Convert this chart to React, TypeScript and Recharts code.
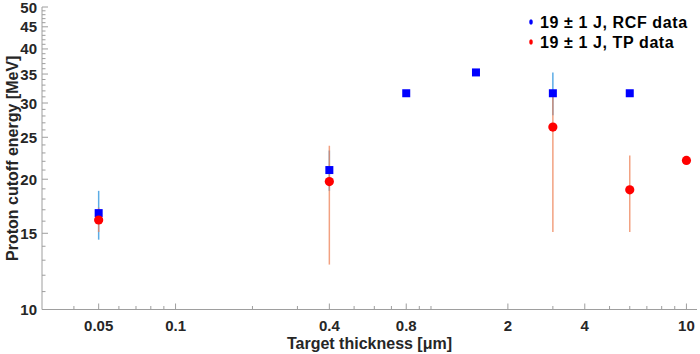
import React from 'react';
import { ComposedChart, Scatter, XAxis, YAxis, ErrorBar, Legend } from 'recharts';

const FONT = '"Liberation Sans", Arial, Helvetica, sans-serif';

// RCF data (target thickness in µm, cutoff energy in MeV)
const rcfThickness = [0.05, 0.4, 0.8, 1.5, 3, 6];
const rcfEnergy = [16.7, 21.0, 31.6, 35.3, 31.6, 31.6];
const rcfLow = [14.5, 18.8, 31.6, 35.3, 28.1, 31.6];
const rcfHigh = [18.8, 23.3, 31.6, 35.3, 35.3, 31.6];

// TP data
const tpThickness = [0.05, 0.4, 3, 6, 10];
const tpEnergy = [16.1, 19.75, 26.4, 18.9, 22.1];
const tpLow = [15.1, 12.7, 15.1, 15.1, 22.1];
const tpHigh = [17.2, 23.9, 31.0, 22.7, 22.1];

const xMajorTicks = [0.05, 0.1, 0.4, 0.8, 2, 4, 10];
const xMinorTicks = [0.04, 0.06, 0.07, 0.08, 0.09, 0.2, 0.3, 0.5, 0.6, 0.7, 0.9, 1, 3, 5, 6, 7, 8, 9];
const yMajorTicks = [10, 15, 20, 25, 30, 35, 40, 45, 50];
const yMinorTicks = [
  11, 12, 13, 14, 16, 17, 18, 19, 21, 22, 23, 24, 26, 27, 28, 29,
  31, 32, 33, 34, 36, 37, 38, 39, 41, 42, 43, 44, 46, 47, 48, 49,
];

const legendLabels = ['19 \u00B1 1 J, RCF data', '19 \u00B1 1 J, TP data'];

const xTicks = [...xMajorTicks, ...xMinorTicks];
const yTicks = [...yMajorTicks, ...yMinorTicks];

const rcfData = rcfThickness.map((x, i) => ({
  x,
  y: rcfEnergy[i],
  err: [rcfEnergy[i] - rcfLow[i], rcfHigh[i] - rcfEnergy[i]],
}));
const tpData = tpThickness.map((x, i) => ({
  x,
  y: tpEnergy[i],
  err: [tpEnergy[i] - tpLow[i], tpHigh[i] - tpEnergy[i]],
}));

const TICK_COLOR = '#9e9e9e';
const LABEL_COLOR = '#262626';

const BottomTick = (props: any) => {
  const { x, y, payload } = props;
  const major = xMajorTicks.includes(payload.value);
  return (
    <g>
      <line x1={x} x2={x} y1={y} y2={y - (major ? 6 : 3.5)} stroke={TICK_COLOR} />
      {major && (
        <text x={x} y={y + 21} textAnchor="middle" fontFamily={FONT} fontWeight={700} fontSize={15} fill={LABEL_COLOR}>
          {payload.value}
        </text>
      )}
    </g>
  );
};

const TopTick = (props: any) => {
  const { x, y, payload } = props;
  const major = xMajorTicks.includes(payload.value);
  return <line x1={x} x2={x} y1={y} y2={y + (major ? 6 : 3.5)} stroke={TICK_COLOR} />;
};

const LeftTick = (props: any) => {
  const { x, y, payload } = props;
  const major = yMajorTicks.includes(payload.value);
  return (
    <g>
      <line x1={x} x2={x + (major ? 6 : 3.5)} y1={y} y2={y} stroke={TICK_COLOR} />
      {major && (
        <text x={x - 5} y={y + 5.5} textAnchor="end" fontFamily={FONT} fontWeight={700} fontSize={15} fill={LABEL_COLOR}>
          {payload.value}
        </text>
      )}
    </g>
  );
};

const RightTick = (props: any) => {
  const { x, y, payload } = props;
  const major = yMajorTicks.includes(payload.value);
  return <line x1={x} x2={x - (major ? 6 : 3.5)} y1={y} y2={y} stroke={TICK_COLOR} />;
};

const Square = (props: any) => (
  <rect x={props.cx - 4} y={props.cy - 4} width={8} height={8} fill="#0000ff" />
);
const Dot = (props: any) => <circle cx={props.cx} cy={props.cy} r={4.6} fill="#ff0000" />;

const LegendBox = () => (
  <svg width={172} height={52}>
    {legendLabels.map((label, i) => (
      <g key={label}>
        <ellipse cx={7} cy={22 + i * 20} rx={1.8} ry={2.8} fill={i === 0 ? '#0000ff' : '#ff0000'} />
        <text
          x={16}
          y={27.5 + i * 20}
          fontFamily={FONT}
          fontWeight={700}
          fontSize={16}
          letterSpacing={0.6}
          fill="#000"
        >
          {label}
        </text>
      </g>
    ))}
  </svg>
);

export default function App() {
  return (
    <div style={{ width: 700, height: 354 }}>
      <style>{'body{margin:0}'}</style>
      <ComposedChart width={700} height={354} margin={{ top: 7, right: 3, bottom: 0, left: 0 }}>
        <XAxis
          xAxisId="b"
          dataKey="x"
          type="number"
          scale="log"
          domain={[0.03, 11]}
          allowDataOverflow
          ticks={xTicks}
          interval={0}
          tickSize={0}
          tickMargin={0}
          tick={<BottomTick />}
          tickLine={false}
          height={44.5}
          stroke={TICK_COLOR}
          label={{
            value: 'Target thickness [\u03BCm]',
            position: 'insideBottom',
            offset: 5,
            style: { fontFamily: FONT, fontWeight: 700, fontSize: 16, fill: LABEL_COLOR },
          }}
        />
        <XAxis
          xAxisId="t"
          orientation="top"
          dataKey="x"
          type="number"
          scale="log"
          domain={[0.03, 11]}
          allowDataOverflow
          ticks={xTicks}
          interval={0}
          tickSize={0}
          tickMargin={0}
          tick={<TopTick />}
          tickLine={false}
          height={0}
          stroke={TICK_COLOR}
        />
        <YAxis
          yAxisId="l"
          dataKey="y"
          type="number"
          scale="log"
          domain={[10, 50]}
          allowDataOverflow
          ticks={yTicks}
          interval={0}
          tickSize={0}
          tickMargin={0}
          tick={<LeftTick />}
          tickLine={false}
          width={42}
          stroke={TICK_COLOR}
          label={{
            value: 'Proton cutoff energy [MeV]',
            angle: -90,
            position: 'center',
            dx: -9,
            style: { fontFamily: FONT, fontWeight: 700, fontSize: 16, fill: LABEL_COLOR },
          }}
        />
        <YAxis
          yAxisId="r"
          orientation="right"
          dataKey="y"
          type="number"
          scale="log"
          domain={[10, 50]}
          allowDataOverflow
          ticks={yTicks}
          interval={0}
          tickSize={0}
          tickMargin={0}
          tick={<RightTick />}
          tickLine={false}
          width={0}
          stroke={TICK_COLOR}
        />
        <Legend
          layout="vertical"
          align="center"
          verticalAlign="middle"
          content={<LegendBox />}
          wrapperStyle={{ top: 0, left: 524, width: 172, height: 52 }}
        />
        <Scatter
          name={legendLabels[0]}
          data={rcfData}
          xAxisId="b"
          yAxisId="l"
          shape={<Square />}
          isAnimationActive={false}
        >
          <ErrorBar dataKey="err" direction="y" width={0} stroke="#3f9ee0" strokeWidth={1.5} strokeOpacity={0.85} />
        </Scatter>
        <Scatter
          name={legendLabels[1]}
          data={tpData}
          xAxisId="b"
          yAxisId="l"
          shape={<Dot />}
          isAnimationActive={false}
        >
          <ErrorBar dataKey="err" direction="y" width={0} stroke="#ee8257" strokeWidth={1.5} strokeOpacity={0.75} />
        </Scatter>
      </ComposedChart>
    </div>
  );
}
